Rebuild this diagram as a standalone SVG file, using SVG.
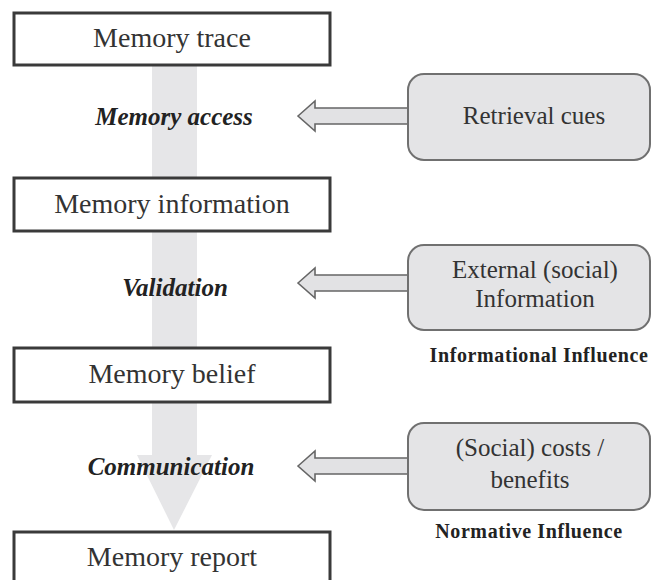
<svg xmlns="http://www.w3.org/2000/svg" width="653" height="580" viewBox="0 0 653 580">
<style>
.mbox{fill:#ffffff;stroke:#3a3a3a;stroke-width:3}
.sbox{fill:#e4e4e6;stroke:#707070;stroke-width:2}
.harrow{fill:#e2e2e4;stroke:#666666;stroke-width:1.6;stroke-linejoin:miter}
.flow{fill:#e6e6e8}
.t{font-family:"Liberation Serif","Times New Roman",serif;fill:#333333;text-anchor:middle}
.mt{font-size:28px}
.st{font-size:25px}
.lab{font-size:25px;font-weight:bold;font-style:italic;fill:#222222}
.inf{font-size:20px;font-weight:bold;fill:#222222;letter-spacing:0.6px}
</style>
<rect width="653" height="580" fill="#ffffff"/>
<g id="connectors">
  <polygon class="flow" points="152,65 197,65 197,455 212,455 174,530 137,455 152,455"/>
  <polygon class="harrow" points="298,116 315,101 315,108 408,108 408,124 315,124 315,131"/>
  <polygon class="harrow" points="298,283 315,268 315,275 408,275 408,291 315,291 315,298"/>
  <polygon class="harrow" points="298,466 315,451 315,458 408,458 408,474 315,474 315,481"/>
</g>
<g id="label-access"><text class="t lab" x="174" y="125">Memory access</text></g>
<g id="label-validation"><text class="t lab" x="175" y="296">Validation</text></g>
<g id="label-communication"><text class="t lab" x="171" y="475">Communication</text></g>
<g id="node-trace">
  <rect class="mbox" x="14" y="13" width="316" height="52"/>
  <text class="t mt" x="172" y="47">Memory trace</text>
</g>
<g id="node-information">
  <rect class="mbox" x="14" y="178" width="316" height="53"/>
  <text class="t mt" x="172" y="213">Memory information</text>
</g>
<g id="node-belief">
  <rect class="mbox" x="14" y="348" width="316" height="54"/>
  <text class="t mt" x="172" y="383">Memory belief</text>
</g>
<g id="node-report">
  <rect class="mbox" x="14" y="532" width="316" height="70"/>
  <text class="t mt" x="172" y="566">Memory report</text>
</g>
<g id="node-cues">
  <rect class="sbox" x="408" y="74" width="242" height="86" rx="16"/>
  <text class="t st" x="534" y="124">Retrieval cues</text>
</g>
<g id="node-external">
  <rect class="sbox" x="408" y="245" width="242" height="85" rx="16"/>
  <text class="t st" x="535" y="278">External (social)</text>
  <text class="t st" x="535" y="307">Information</text>
  <text class="t inf" x="539" y="362">Informational Influence</text>
</g>
<g id="node-costs">
  <rect class="sbox" x="408" y="423" width="242" height="87" rx="16"/>
  <text class="t st" x="530" y="456">(Social) costs /</text>
  <text class="t st" x="530" y="488">benefits</text>
  <text class="t inf" x="529" y="538">Normative Influence</text>
</g>
</svg>
